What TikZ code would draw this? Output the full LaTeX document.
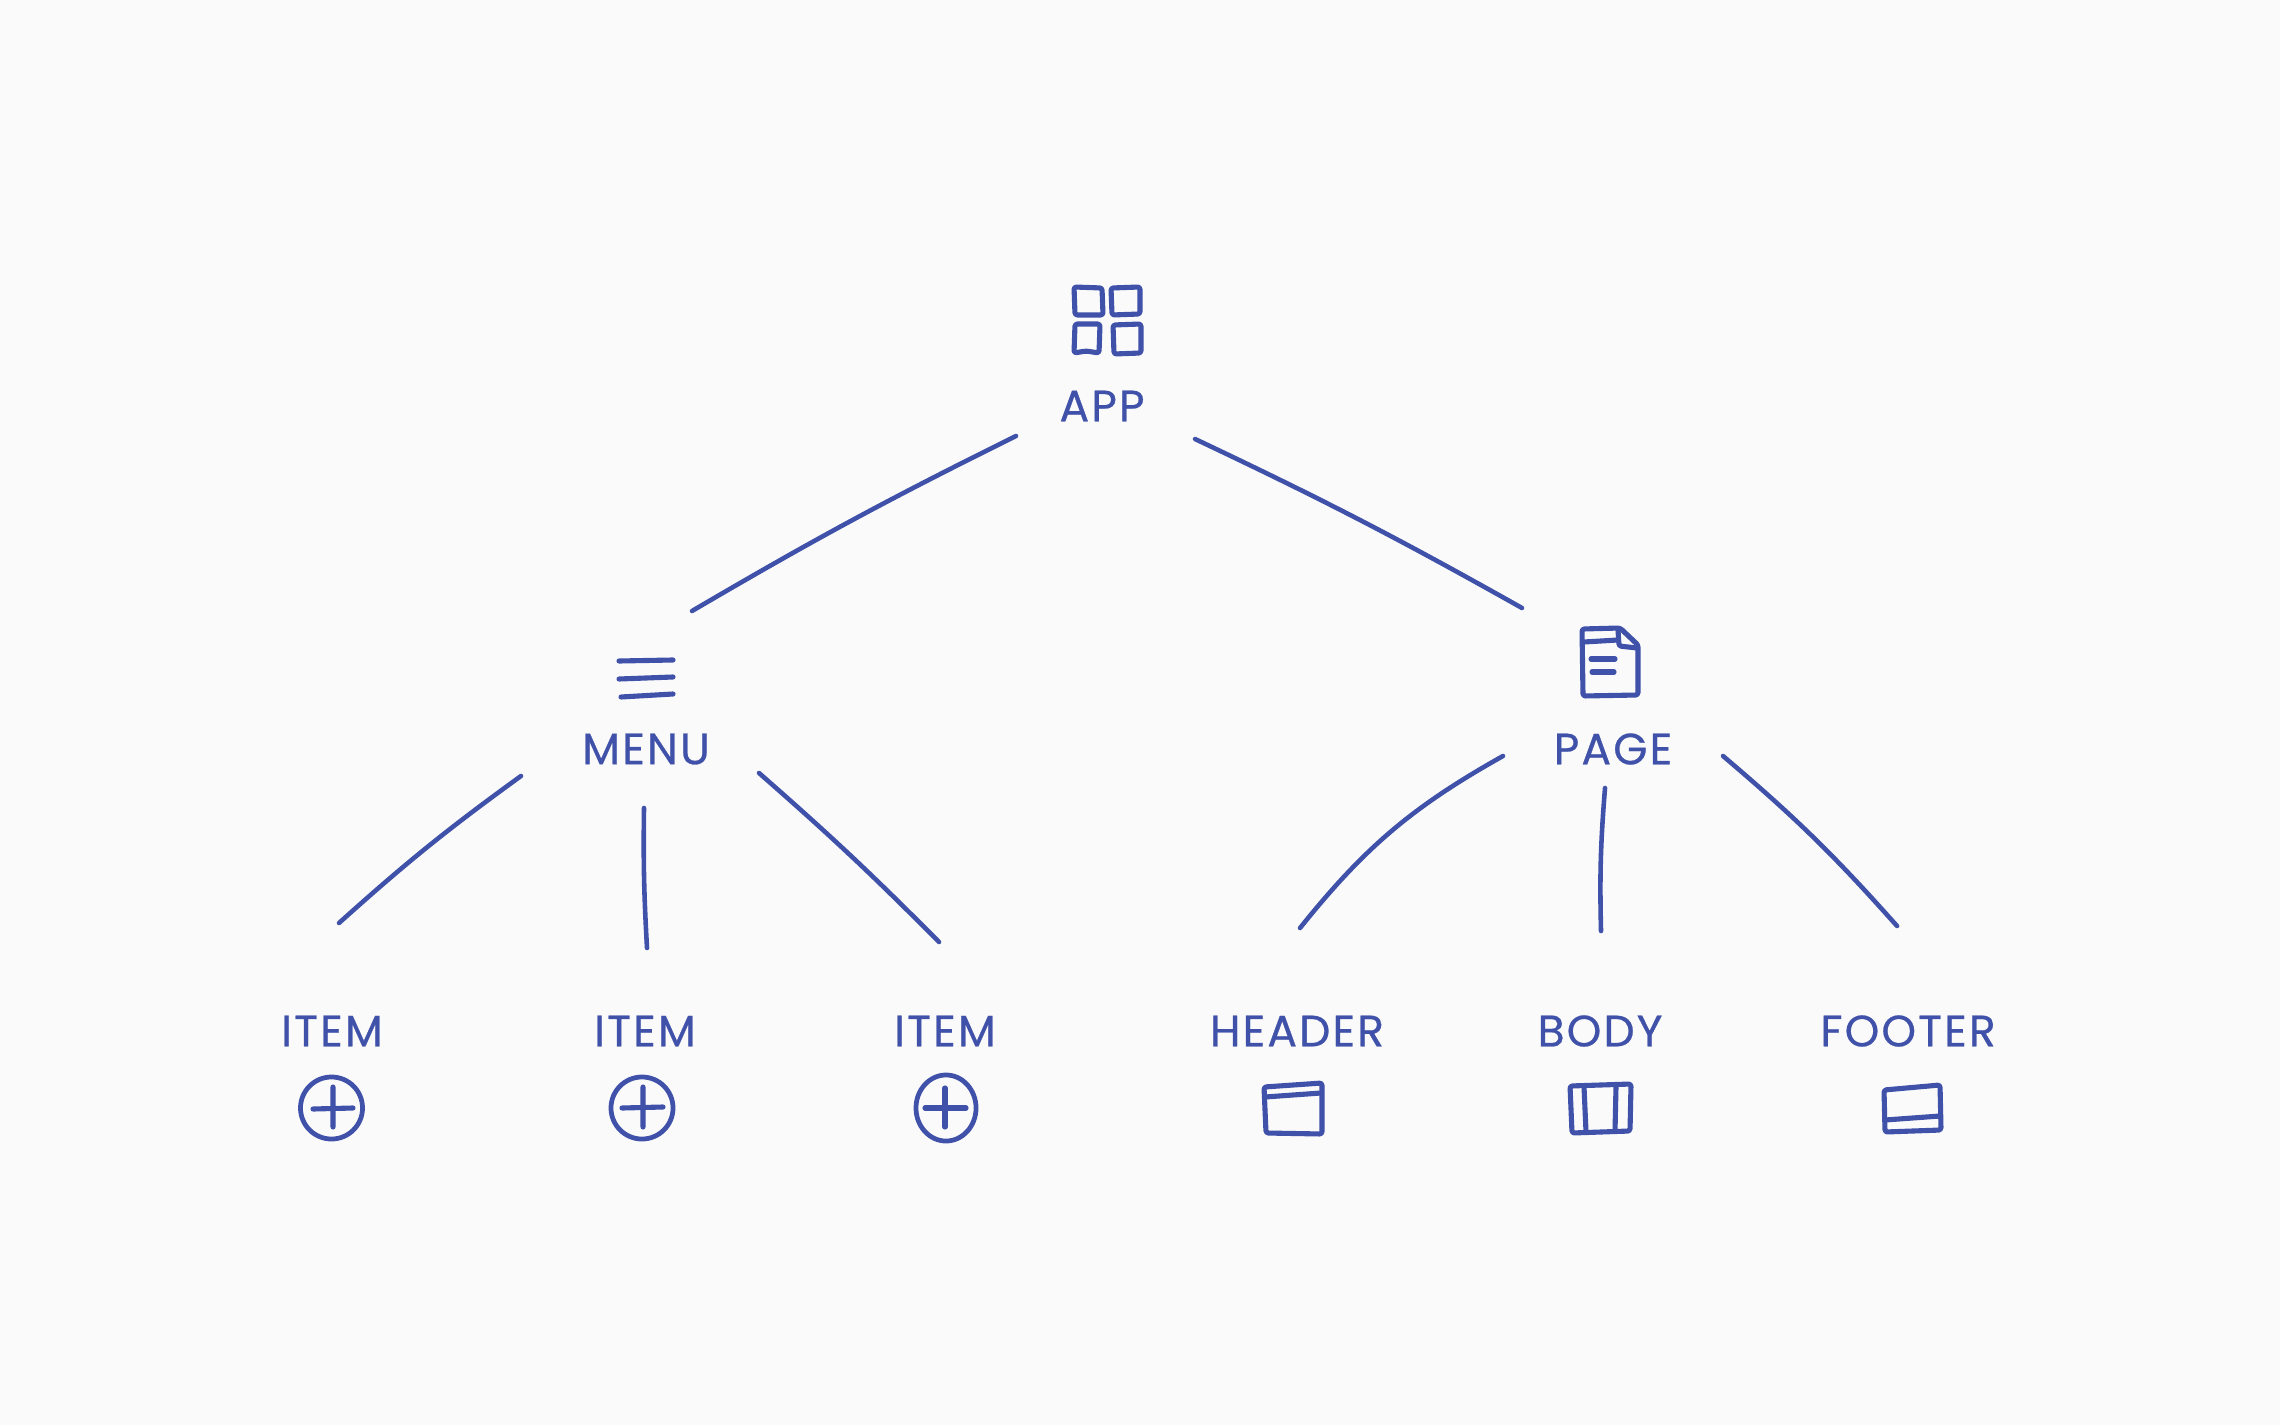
\documentclass[tikz,border=0pt]{standalone}
\usepackage{fontspec}
\newfontfamily\handfont[LetterSpace=5,FakeBold=0.6]{Poppins}
\usetikzlibrary{positioning,shapes.geometric}
\definecolor{ink}{HTML}{3F51A9}
\definecolor{paper}{HTML}{FAFAFA}
\tikzset{
    name label/.style={text=ink, font=\handfont\fontsize{12.5}{15}\selectfont, inner sep=0pt},
    icon/.style={draw=ink, line width=1.45pt, line cap=round, line join=round, rounded corners=0.7pt},
    link/.style={draw=ink, line width=1.3pt, line cap=round},
    plus circle/.style={ellipse, draw=ink, line width=1.35pt, minimum width=0.62cm, minimum height=0.62cm, inner sep=0pt},
}
\begin{document}
\begin{tikzpicture}[x=0.01cm, y=-0.01cm]
    \fill[paper] (0,0) rectangle (2280,1425);

    % labels
    \node [name label] (app) at (1102,406) {APP};
    \node [name label] (menu) at (646,749) {MENU};
    \node [name label] (page) at (1613,749) {PAGE};
    \node [name label] (item1) at (332,1031) {ITEM};
    \node [name label] (item2) at (645,1031) {ITEM};
    \node [name label] (item3) at (945,1031) {ITEM};
    \node [name label] (header) at (1297,1031) {HEADER};
    \node [name label] (body) at (1600,1031) {BODY};
    \node [name label] (footer) at (1908,1031) {FOOTER};

    % connector ends
    \coordinate (appL) at (1016,436);
    \coordinate (appR) at (1195,439);
    \coordinate (menuTop) at (692,611);
    \coordinate (pageTop) at (1522,608);
    \coordinate (menuL) at (521,776);
    \coordinate (menuM) at (644,808);
    \coordinate (menuR) at (759,773);
    \coordinate (pageL) at (1503,756);
    \coordinate (pageM) at (1605,788);
    \coordinate (pageR) at (1723,756);
    \coordinate (item1Top) at (339,923);
    \coordinate (item2Top) at (647,948);
    \coordinate (item3Top) at (939,942);
    \coordinate (headerTop) at (1300,928);
    \coordinate (bodyTop) at (1601,931);
    \coordinate (footerTop) at (1897,926);

    \draw [link] (appL) to [bend right=2] (menuTop);
    \draw [link] (appR) to [bend left=2] (pageTop);
    \draw [link] (menuL) to [bend right=3] (item1Top);
    \draw [link] (menuM) to [bend right=2] (item2Top);
    \draw [link] (menuR) to [bend left=2] (item3Top);
    \draw [link] (pageL) to [bend right=11] (headerTop);
    \draw [link] (pageM) to [bend right=3] (bodyTop);
    \draw [link] (pageR) to [bend left=4] (footerTop);

    % app icon
    \draw [icon] (1074,287) -- (1102,288) -- (1103,315) -- (1075,315) -- cycle;
    \draw [icon] (1111,288) -- (1140,287) -- (1140,314) -- (1112,315) -- cycle;
    \draw [icon] (1075,324) -- (1100,324) -- (1099,353) -- (1086,351) -- (1074,353) -- cycle;
    \draw [icon] (1113,325) -- (1141,324) -- (1141,353) -- (1114,354) -- cycle;

    % menu icon
    \draw [icon] (619,661) -- (673,660);
    \draw [icon] (619,679) -- (673,677);
    \draw [icon] (621,697) -- (673,694);

    % page icon
    \draw [icon] (1582,629) -- (1620,628) -- (1638,645) -- (1638,695) -- (1583,696) -- cycle;
    \draw [icon] (1618,630) -- (1619,646) -- (1637,648);
    \draw [icon] (1584,642) -- (1618,640);
    \draw [icon] (1591,659) -- (1615,659);
    \draw [icon] (1592,672) -- (1614,672);

    % plus icons
    \node [plus circle] (plus1) at (331.5,1108) {};
    \node [plus circle] (plus2) at (642,1108) {};
    \node [plus circle, minimum height=0.66cm, minimum width=0.6cm] (plus3) at (946,1108) {};
    \draw [icon] (313,1109) -- (353,1108) (333,1087) -- (333,1127);
    \draw [icon] (622,1108) -- (663,1107) (643,1087) -- (643,1127);
    \draw [icon] (925,1108) -- (966,1108) (945,1088) -- (945,1127);

    % header icon
    \draw [icon] (1264,1087) -- (1322,1083) -- (1322,1134) -- (1266,1133) -- cycle;
    \draw [icon] (1265,1097) -- (1321,1093);
    % body icon
    \draw [icon] (1570,1086) -- (1631,1084) -- (1630,1131) -- (1572,1133) -- cycle;
    \draw [icon] (1584,1087) -- (1586,1132) (1616,1086) -- (1615,1131);
    % footer icon
    \draw [icon] (1884,1090) -- (1940,1085) -- (1941,1130) -- (1885,1132) -- cycle;
    \draw [icon] (1885,1120) -- (1940,1116);
\end{tikzpicture}
\end{document}
